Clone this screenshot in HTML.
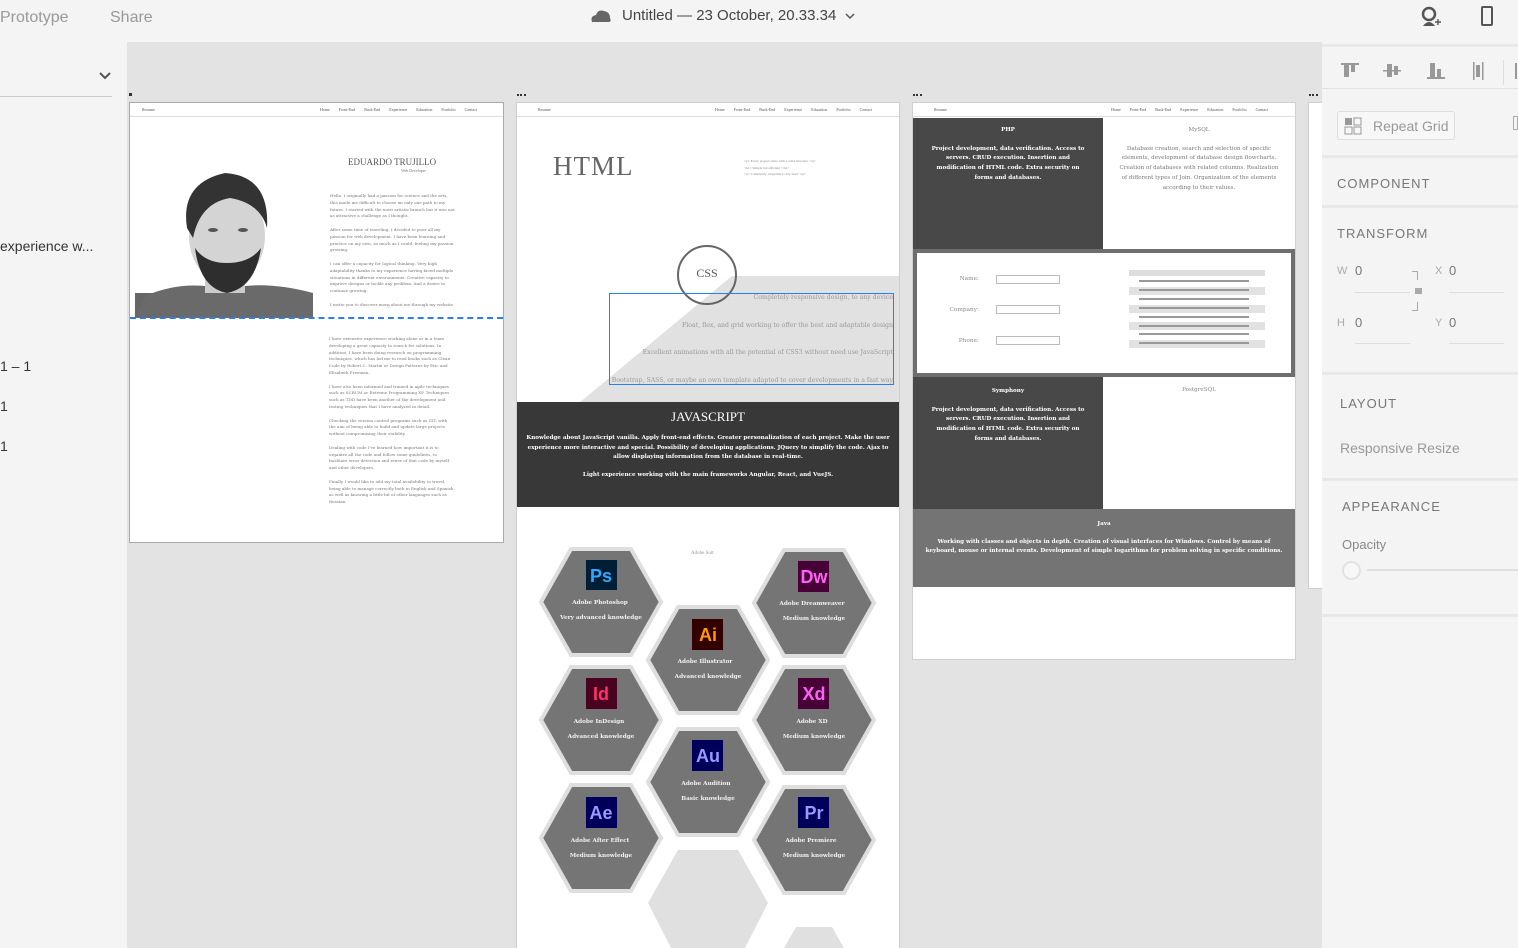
<!DOCTYPE html>
<html style="overflow:hidden;width:1518px;height:948px"><head><meta charset="utf-8"><style>
*{margin:0;padding:0;box-sizing:border-box}
body{width:1518px;height:948px;overflow:hidden;background:#e3e3e3;font-family:"Liberation Sans",sans-serif;position:relative}
.a{position:absolute}
.top{left:0;top:0;width:1518px;height:42px;background:#f4f4f4}
.lp{left:0;top:42px;width:127px;height:906px;background:#f4f4f4}
.rp{left:1322px;top:42px;width:196px;height:906px;background:#f4f4f4}
.fr{background:#fff;border:1px solid #cfcfcf;overflow:hidden}
.nav{font-family:"Liberation Serif",serif;font-size:4px;color:#555}
.sm{font-family:"DejaVu Serif",serif;font-size:4.1px;line-height:6.8px;color:#777}
.ds{font-family:"DejaVu Serif",serif}
.sec{font-size:13px;letter-spacing:1px;color:#777}
.hr{height:3px;background:#e8e8e8}
</style></head><body>
<div class="a top"></div>
<div class="a" style="left:0;top:9px;font-size:16px;color:#999">Prototype</div>
<div class="a" style="left:110px;top:9px;font-size:16px;color:#999">Share</div>
<svg class="a" style="left:590px;top:8px" width="22" height="16"><path d="M2 14 Q0 8 6 7 Q8 1 14 3 Q20 4 20 10 Q22 14 18 14Z" fill="#666"/></svg>
<div class="a" style="left:622px;top:7px;font-size:15px;color:#444">Untitled — 23 October, 20.33.34</div>
<svg class="a" style="left:844px;top:11px" width="12" height="10"><path d="M2 3 L6 7 L10 3" stroke="#555" stroke-width="1.5" fill="none"/></svg>
<svg class="a" style="left:1420px;top:6px" width="22" height="22"><circle cx="9" cy="8" r="6" fill="none" stroke="#555" stroke-width="2.5"/><path d="M3 20 Q9 12 15 20" fill="#555"/><path d="M15 16h6M18 13v6" stroke="#555" stroke-width="1.4"/></svg>
<div class="a" style="left:1481px;top:6px;width:12px;height:20px;border:2px solid #555;border-radius:2px"></div>
<div class="a lp"></div>
<svg class="a" style="left:98px;top:71px" width="14" height="10"><path d="M2 2 L7 7 L12 2" stroke="#555" stroke-width="2" fill="none"/></svg>
<div class="a" style="left:0;top:96px;width:112px;height:1px;background:#ccc"></div>
<div class="a" style="left:0;top:238px;font-size:14px;color:#333">experience w...</div>
<div class="a" style="left:0;top:358px;font-size:14px;color:#333">1 – 1</div>
<div class="a" style="left:0;top:398px;font-size:14px;color:#333">1</div>
<div class="a" style="left:0;top:438px;font-size:14px;color:#333">1</div>

<!-- Frame 1 -->
<div class="a" style="left:129px;top:93px;width:3px;height:3px;background:#333"></div>
<div class="a fr" style="left:129px;top:102px;width:375px;height:441px;border-color:#aaa">
 <div class="a" style="left:0;top:0;width:373px;height:14px;border-bottom:1px solid #ddd"></div>
 <div class="a nav" style="left:12px;top:4px">Resume</div>
 <div class="a nav" style="left:190px;top:4px;word-spacing:8px">Home Front-End Back-End Experience Education Portfolio Contact</div>
 <div class="a" style="left:218px;top:54px;font-family:'Liberation Serif',serif;font-size:9px;color:#555">EDUARDO TRUJILLO</div>
 <div class="a nav" style="left:271px;top:65px;color:#777">Web Developer</div>
 <div class="a sm" style="left:200px;top:90px;width:126px">Hello. I originally had a passion for science and the arts, this made me difficult to choose an only one path to my future. I started with the most artistic branch but it was not as attractive a challenge as I thought.<br><br>After some time of traveling, I decided to pour all my passion for web development. I have been learning and practice on my own, as much as I could, feeling my passion growing.<br><br>I can offer a capacity for logical thinking. Very high adaptability thanks to my experience having faced multiple situations in different environments. Creative capacity to improve designs or tackle any problem. And a desire to continue growing.<br><br>I invite you to discover more about me through my website.</div>
 <div class="a nav" style="left:257px;top:201px;color:#999">▽</div>
 <svg class="a" style="left:5px;top:65px" width="178" height="150">
  <rect x="0" y="125" width="178" height="25" fill="#666"/>
  <path d="M0 150 L10 128 Q40 115 70 118 L110 118 Q140 115 178 125 L178 150Z" fill="#6a6a6a"/>
  <rect x="70" y="100" width="40" height="25" fill="#ccc"/>
  <ellipse cx="92" cy="68" rx="38" ry="48" fill="#d4d4d4"/>
  <path d="M52 60 Q45 15 90 5 Q135 8 132 60 Q125 35 95 30 Q65 35 58 70Z" fill="#333"/>
  <path d="M60 80 Q65 120 92 125 Q120 120 126 80 Q115 95 92 95 Q70 95 60 80Z" fill="#2e2e2e"/>
  <ellipse cx="78" cy="62" rx="5" ry="2" fill="#555"/><ellipse cx="108" cy="62" rx="5" ry="2" fill="#555"/>
 </svg>
 <div class="a" style="left:0;top:214px;width:373px;border-top:2px dashed #2a7ff0"></div>
 <div class="a sm" style="left:199px;top:233px;width:126px">I have extensive experience working alone or in a team developing a great capacity to search for solutions. In addition, I have been doing research on programming techniques, which has led me to read books such as Clean Code by Robert C. Martin or Design Patterns by Eric and Elisabeth Freeman.<br><br>I have also been informed and trained in agile techniques such as SCRUM or Extreme Programming XP. Techniques such as TDD have been another of the development and testing techniques that I have analyzed in detail.<br><br>Checking the version control programs such as GIT, with the aim of being able to build and update large projects without compromising their stability.<br><br>Dealing with code I've learned how important it is to organize all the code and follow some guidelines, to facilitate error detection and reuse of that code by myself and other developers.<br><br>Finally I would like to add my total availability to travel, being able to manage correctly both in English and Spanish, as well as knowing a little bit of other languages such as Russian.</div>
</div>

<!-- Frame 2 -->
<div class="a" style="left:517px;top:94px;width:9px;height:2px;border-top:2px dotted #333"></div>
<div class="a fr" style="left:516px;top:102px;width:384px;height:846px;border-bottom:none">
 <div class="a" style="left:0;top:0;width:382px;height:14px;border-bottom:1px solid #ddd"></div>
 <div class="a nav" style="left:21px;top:4px">Resume</div>
 <div class="a nav" style="left:198px;top:4px;word-spacing:8px">Home Front-End Back-End Experience Education Portfolio Contact</div>
 <div class="a" style="left:36px;top:48px;font-family:'Liberation Serif',serif;font-size:27px;color:#666;letter-spacing:1px">HTML</div>
 <div class="a" style="left:227px;top:55px;font-family:'Liberation Serif',serif;font-size:3.5px;line-height:6.5px;color:#888">&lt;p&gt; Every project starts with a solid structure &lt;/p&gt;<br>&lt;h1&gt; Simple but efficient &lt;/h1&gt;<br>&lt;p&gt; Completely adaptable to any need &lt;/p&gt;</div>
 <svg class="a" style="left:0;top:170px" width="382" height="130"><path d="M62 130 L215 3 L382 3 L382 130Z" fill="#e1e1e1"/></svg>
 <div class="a" style="left:160px;top:142px;width:60px;height:60px;border-radius:50%;border:2px solid #666;background:transparent"></div>
 <div class="a" style="left:160px;top:163px;width:60px;text-align:center;font-family:'Liberation Serif',serif;font-size:12px;color:#555">CSS</div>
 <div class="a" style="left:92px;top:190px;width:285px;height:92px;border:1px solid #2a7ff0"></div>
 <div class="a ds" style="left:0;top:181px;width:376px;overflow:hidden;text-align:right;font-size:6.2px;line-height:27.5px;color:#999;white-space:nowrap">Completely responsive design, to any device<br>Float, flex, and grid working to offer the best and adaptable design<br>Excellent animations with all the potential of CSS3 without need use JavaScript<br>Bootstrap, SASS, or maybe an own template adapted to cover developments in a fast way</div>
 <div class="a ds" style="left:0;top:299px;width:382px;height:105px;background:#383838;color:#fff;text-align:center">
  <div style="font-family:'Liberation Serif',serif;font-size:13px;margin-top:7px">JAVASCRIPT</div>
  <div style="font-size:5.6px;line-height:9.5px;margin:9px 5px 0;font-weight:bold">Knowledge about JavaScript vanilla. Apply front-end effects. Greater personalization of each project. Make the user experience more interactive and special. Possibility of developing applications. JQuery to simplify the code. Ajax to allow displaying information from the database in real-time.</div>
  <div style="font-size:5.6px;margin-top:9px;font-weight:bold">Light experience working with the main frameworks Angular, React, and VueJS.</div>
 </div>
 <div class="a nav" style="left:174px;top:448px;font-size:5px;color:#999">Adobe Suit</div>
</div>

<svg class="a" style="left:0;top:0;overflow:hidden" width="1518" height="948">
<defs><polygon id="h" points="-60,0 -30,-53 30,-53 60,0 30,53 -30,53"/></defs>
<g fill="#757575" stroke="#dedede" stroke-width="4">
<use href="#h" x="601" y="602"/><use href="#h" x="814" y="603"/><use href="#h" x="708" y="660"/>
<use href="#h" x="601" y="720"/><use href="#h" x="814" y="720"/><use href="#h" x="708" y="782"/>
<use href="#h" x="601" y="838"/><use href="#h" x="814" y="840"/>
</g>
<polygon points="648,903 678,850 738,850 768,903 745,948 671,948" fill="#e0e0e0"/>
<polygon points="784,948 796,927 832,927 844,948" fill="#e0e0e0"/>
<g font-family="Liberation Sans, sans-serif" font-size="18" text-anchor="middle" font-weight="bold">
<rect x="586" y="560" width="31" height="30" fill="#001e36"/><text x="601" y="582" fill="#31a8ff">Ps</text>
<rect x="798" y="561" width="31" height="31" fill="#470137"/><text x="814" y="583" fill="#ff61f6">Dw</text>
<rect x="692" y="619" width="31" height="31" fill="#330000"/><text x="708" y="641" fill="#ff9a00">Ai</text>
<rect x="586" y="678" width="31" height="31" fill="#49021f"/><text x="601" y="700" fill="#ff3366">Id</text>
<rect x="798" y="678" width="31" height="31" fill="#470137"/><text x="814" y="700" fill="#ff61f6">Xd</text>
<rect x="692" y="740" width="31" height="31" fill="#00005b"/><text x="708" y="762" fill="#9999ff">Au</text>
<rect x="586" y="797" width="31" height="31" fill="#00005b"/><text x="601" y="819" fill="#9999ff">Ae</text>
<rect x="798" y="797" width="31" height="31" fill="#00005b"/><text x="814" y="819" fill="#9999ff">Pr</text>
</g>
<g font-family="DejaVu Serif, serif" font-size="5.7" fill="#f2f2f2" text-anchor="middle" font-weight="bold">
<text x="600" y="604">Adobe Photoshop</text><text x="601" y="619">Very advanced knowledge</text>
<text x="812" y="605">Adobe Dreamweaver</text><text x="814" y="620">Medium knowledge</text>
<text x="705" y="663">Adobe Illustrator</text><text x="708" y="678">Advanced knowledge</text>
<text x="599" y="723">Adobe InDesign</text><text x="601" y="738">Advanced knowledge</text>
<text x="812" y="723">Adobe XD</text><text x="814" y="738">Medium knowledge</text>
<text x="706" y="785">Adobe Audition</text><text x="708" y="800">Basic knowledge</text>
<text x="600" y="842">Adobe After Effect</text><text x="601" y="857">Medium knowledge</text>
<text x="811" y="842">Adobe Premiere</text><text x="814" y="857">Medium knowledge</text>
</g>
</svg>

<!-- Frame 3 -->
<div class="a" style="left:913px;top:94px;width:9px;height:2px;border-top:2px dotted #333"></div>
<div class="a fr" style="left:912px;top:102px;width:384px;height:558px">
 <div class="a" style="left:0;top:0;width:382px;height:14px;border-bottom:1px solid #ddd"></div>
 <div class="a nav" style="left:21px;top:4px">Resume</div>
 <div class="a nav" style="left:198px;top:4px;word-spacing:8px">Home Front-End Back-End Experience Education Portfolio Contact</div>
 <div class="a ds" style="left:0;top:15px;width:190px;height:131px;background:#484848;color:#fff;text-align:center;font-size:5.6px;font-weight:bold;line-height:9.7px">
  <div style="margin-top:8px">PHP</div><div style="margin:9px 14px 0">Project development, data verification. Access to servers. CRUD execution. Insertion and modification of HTML code. Extra security on forms and databases.</div></div>
 <div class="a ds" style="left:190px;top:15px;width:192px;height:131px;color:#777;text-align:center;font-size:5.6px;line-height:9.7px">
  <div style="margin-top:8px">MySQL</div><div style="margin:9px 14px 0">Database creation, search and selection of specific elements, development of database design flowcharts. Creation of databases with related columns. Realization of different types of Join. Organization of the elements according to their values.</div></div>
 <div class="a" style="left:0;top:146px;width:382px;height:128px;background:#6e6e6e"></div>
 <div class="a" style="left:4px;top:150px;width:374px;height:120px;background:#fff"></div>
 <div class="a ds" style="left:0;top:161px;width:66px;text-align:right;font-size:5.8px;line-height:31px;color:#888">Name:<br>Company:<br>Phone:</div>
 <div class="a" style="left:83px;top:172px;width:64px;height:9px;border:1px solid #bbb"></div>
 <div class="a" style="left:83px;top:202px;width:64px;height:9px;border:1px solid #bbb"></div>
 <div class="a" style="left:83px;top:233px;width:64px;height:9px;border:1px solid #bbb"></div>
 <svg class="a" style="left:216px;top:167px" width="138" height="80">
  <rect x="0" y="0" width="136" height="6" fill="#ddd"/>
  <g fill="#e2e2e2"><rect y="17" width="136" height="8"/><rect y="35" width="136" height="8"/><rect y="52" width="136" height="8"/><rect y="70" width="136" height="8"/></g>
  <g fill="#999"><rect x="10" y="10" width="110" height="2"/><rect x="10" y="19" width="110" height="2"/><rect x="10" y="28" width="110" height="2"/><rect x="10" y="37" width="110" height="2"/><rect x="10" y="46" width="110" height="2"/><rect x="10" y="55" width="110" height="2"/><rect x="10" y="63" width="110" height="2"/><rect x="10" y="72" width="110" height="2"/></g>
 </svg>
 <div class="a ds" style="left:0;top:274px;width:190px;height:132px;background:#484848;color:#fff;text-align:center;font-size:5.6px;font-weight:bold;line-height:9.7px">
  <div style="margin-top:10px">Symphony</div><div style="margin:9px 14px 0">Project development, data verification. Access to servers. CRUD execution. Insertion and modification of HTML code. Extra security on forms and databases.</div></div>
 <div class="a ds" style="left:190px;top:284px;width:192px;text-align:center;font-size:5.6px;color:#888">PostgreSQL</div>
 <div class="a ds" style="left:0;top:406px;width:382px;height:78px;background:#747474;color:#fff;text-align:center;font-size:5.6px;font-weight:bold;line-height:9px">
  <div style="margin-top:11px">Java</div><div style="margin:9px 12px 0">Working with classes and objects in depth. Creation of visual interfaces for Windows. Control by means of keyboard, mouse or internal events. Development of simple logarithms for problem solving in specific conditions.</div></div>
</div>
<div class="a" style="left:1309px;top:94px;width:9px;height:2px;border-top:2px dotted #333"></div>
<div class="a fr" style="left:1308px;top:102px;width:20px;height:487px"></div>

<!-- Right panel -->
<div class="a rp"></div>
<div class="a" style="left:1322px;top:44px;width:196px;height:3px;background:#e8e8e8"></div>
<svg class="a" style="left:1340px;top:60px" width="178" height="25" fill="#999">
 <rect x="1" y="3" width="18" height="2"/><rect x="4" y="5" width="5" height="12"/><rect x="11" y="5" width="4" height="7"/>
 <rect x="43" y="10" width="18" height="1.5"/><rect x="47" y="4" width="5" height="13"/><rect x="54" y="6" width="4" height="9"/>
 <rect x="87" y="17" width="18" height="2"/><rect x="90" y="3" width="5" height="14"/><rect x="97" y="9" width="4" height="8"/>
 <rect x="133" y="2" width="1.5" height="18"/><rect x="142" y="2" width="1.5" height="18"/><rect x="136" y="5" width="4" height="12"/>
 <rect x="163" y="0" width="1" height="28" fill="#ddd"/><rect x="175" y="3" width="2" height="16"/>
</svg>
<div class="a" style="left:1322px;top:88px;width:196px;height:1px;background:#e2e2e2"></div>
<div class="a" style="left:1337px;top:111px;width:118px;height:29px;border:1px solid #ddd;border-radius:3px;background:#f7f7f7"></div>
<svg class="a" style="left:1344px;top:117px" width="20" height="18"><rect x="1" y="1" width="7" height="7" fill="#999"/><rect x="10" y="1" width="7" height="7" fill="none" stroke="#999"/><rect x="1" y="10" width="7" height="7" fill="none" stroke="#999"/><rect x="10" y="10" width="7" height="7" fill="none" stroke="#999"/></svg>
<div class="a" style="left:1373px;top:118px;font-size:14px;color:#999">Repeat Grid</div>
<div class="a" style="left:1513px;top:116px;width:5px;height:14px;border:1px solid #aaa"></div>
<div class="a hr" style="left:1322px;top:155px;width:196px"></div>
<div class="a sec" style="left:1337px;top:176px">COMPONENT</div>
<div class="a hr" style="left:1322px;top:205px;width:196px"></div>
<div class="a sec" style="left:1337px;top:226px">TRANSFORM</div>
<div class="a" style="left:1337px;top:265px;font-size:11px;color:#aaa">W</div><div class="a" style="left:1355px;top:263px;font-size:13px;color:#777">0</div>
<div class="a" style="left:1435px;top:265px;font-size:11px;color:#aaa">X</div><div class="a" style="left:1449px;top:263px;font-size:13px;color:#777">0</div>
<div class="a" style="left:1337px;top:317px;font-size:11px;color:#aaa">H</div><div class="a" style="left:1355px;top:315px;font-size:13px;color:#777">0</div>
<div class="a" style="left:1435px;top:317px;font-size:11px;color:#aaa">Y</div><div class="a" style="left:1449px;top:315px;font-size:13px;color:#777">0</div>
<div class="a" style="left:1355px;top:292px;width:55px;height:1px;background:#ddd"></div>
<div class="a" style="left:1449px;top:292px;width:55px;height:1px;background:#ddd"></div>
<div class="a" style="left:1355px;top:343px;width:55px;height:1px;background:#ddd"></div>
<div class="a" style="left:1449px;top:343px;width:55px;height:1px;background:#ddd"></div>
<div class="a" style="left:1412px;top:271px;width:6px;height:9px;border-top:1px solid #aaa;border-right:1px solid #aaa"></div>
<div class="a" style="left:1412px;top:302px;width:6px;height:9px;border-bottom:1px solid #aaa;border-right:1px solid #aaa"></div>
<div class="a" style="left:1415px;top:288px;width:7px;height:6px;background:#aaa"></div>
<div class="a hr" style="left:1322px;top:372px;width:196px"></div>
<div class="a sec" style="left:1340px;top:396px">LAYOUT</div>
<div class="a" style="left:1340px;top:440px;font-size:14px;color:#999">Responsive Resize</div>
<div class="a hr" style="left:1322px;top:478px;width:196px"></div>
<div class="a sec" style="left:1342px;top:499px">APPEARANCE</div>
<div class="a" style="left:1342px;top:537px;font-size:13px;color:#888">Opacity</div>
<div class="a" style="left:1342px;top:561px;width:19px;height:19px;border-radius:50%;border:2px solid #e2e2e2;background:#f7f7f7"></div>
<div class="a" style="left:1367px;top:569px;width:151px;height:2px;background:#e0e0e0"></div>
<div class="a hr" style="left:1322px;top:614px;width:196px"></div>
</body></html>
